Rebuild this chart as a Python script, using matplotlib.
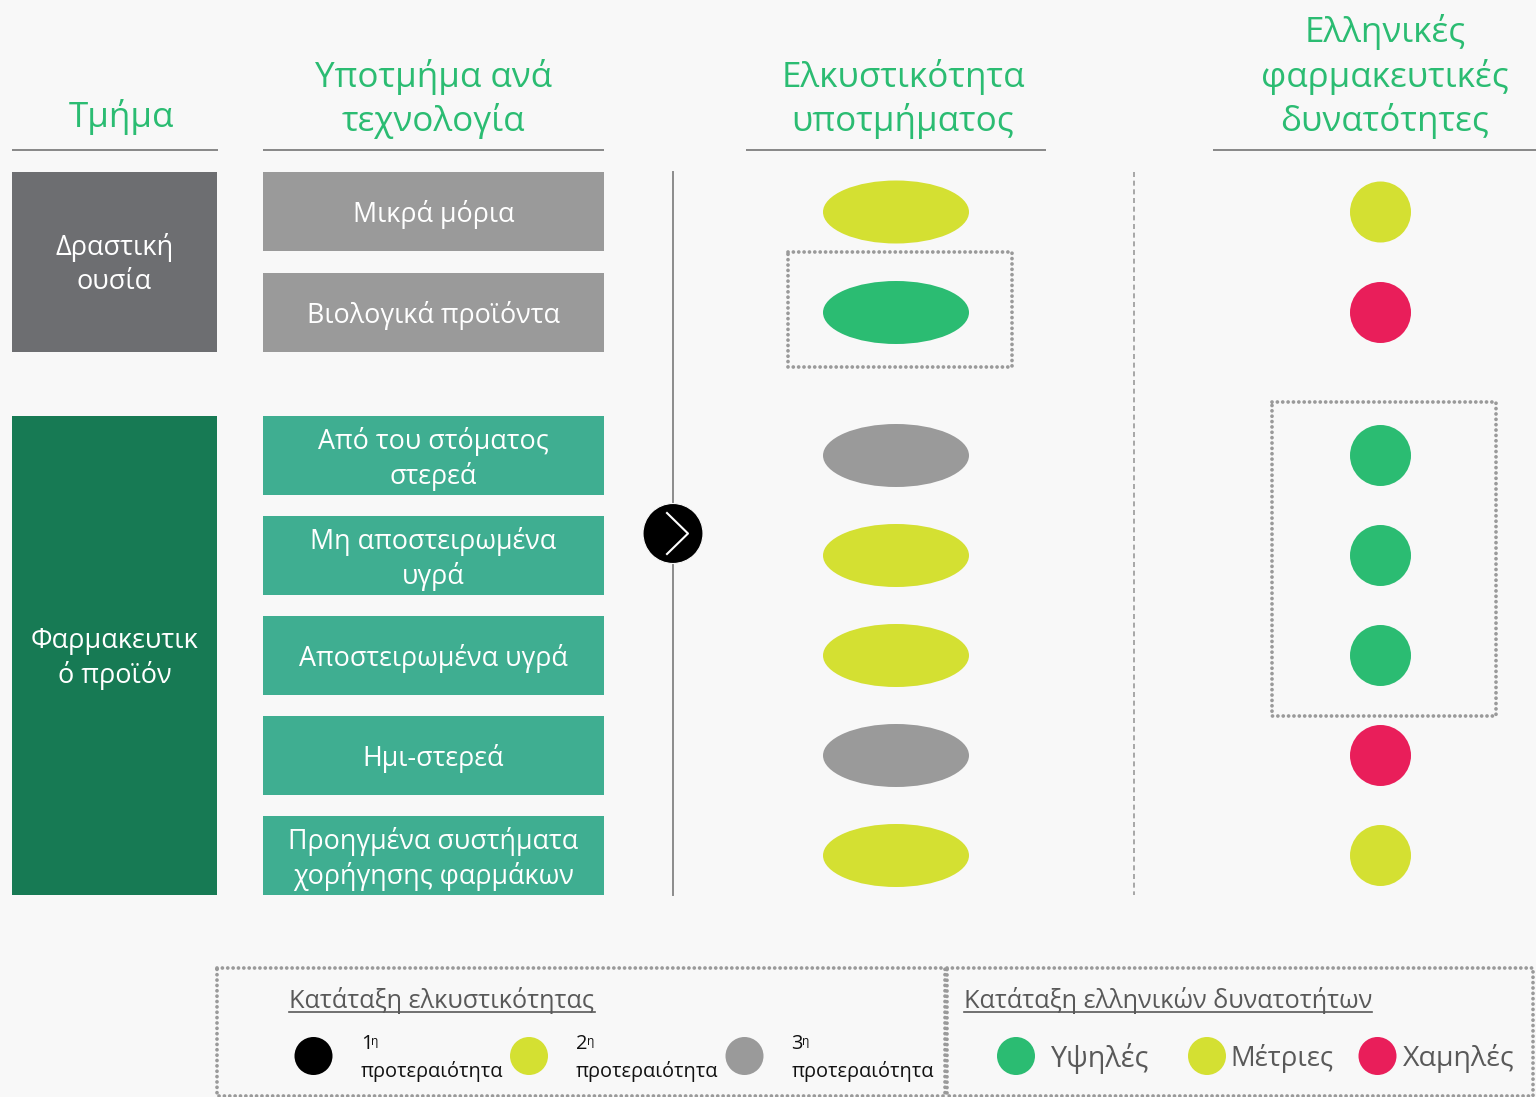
import matplotlib
matplotlib.use("Agg")
import matplotlib.pyplot as plt
from matplotlib.patches import Rectangle, Ellipse, Circle

plt.rcParams['font.family'] = ['Open Sans', 'DejaVu Sans']

headers = ["Τμήμα", "Υποτμήμα ανά\nτεχνολογία", "Ελκυστικότητα\nυποτμήματος", "Ελληνικές\nφαρμακευτικές\nδυνατότητες"]
segments = ["Δραστική\nουσία", "Φαρμακευτικ\nό προϊόν"]
subsegments = ["Μικρά μόρια", "Βιολογικά προϊόντα", "Από του στόματος\nστερεά", "Μη αποστειρωμένα\nυγρά",
               "Αποστειρωμένα υγρά", "Ημι-στερεά", "Προηγμένα συστήματα\nχορήγησης φαρμάκων"]
attractiveness = [2, 1, 3, 2, 2, 3, 2]      # priority rank
capabilities = ["Μέτριες", "Χαμηλές", "Υψηλές", "Υψηλές", "Υψηλές", "Χαμηλές", "Μέτριες"]
rank_title = "Κατάταξη ελκυστικότητας"
cap_title = "Κατάταξη ελληνικών δυνατοτήτων"
rank_labels = ["1η", "2η", "3η"]
rank_word = "προτεραιότητα"
cap_labels = ["Υψηλές", "Μέτριες", "Χαμηλές"]

GREEN, LIME, RED, GREY = "#2BBC72", "#D4E032", "#E91E5A", "#9A9A9A"
BG = "#F8F8F8"
rank_col = {1: GREEN, 2: LIME, 3: GREY}
cap_col = {"Υψηλές": GREEN, "Μέτριες": LIME, "Χαμηλές": RED}

row_top = [172, 273, 416, 516, 616, 716, 816]
row_h = 79
row_cy = [212, 312.5, 455.5, 555.5, 655.5, 755.5, 855.5]

fig = plt.figure(figsize=(15.36, 10.97), dpi=100, facecolor=BG)
ax = fig.add_axes([0, 0, 1, 1])
ax.set_xlim(0, 1536); ax.set_ylim(1097, 0); ax.axis("off")

# headers
hx = [121, 433.5, 903, 1385]
hy = [135, 139, 139, 139]
rule = [(12, 218), (263, 604), (746, 1046), (1213, 1536)]
for h, x, y, (a, b) in zip(headers, hx, hy, rule):
    ax.text(x, y, h, ha="center", va="bottom", color=GREEN, fontsize=25.2, linespacing=1.3)
    ax.plot([a, b], [150, 150], color="#7F7F7F", lw=1.3, solid_capstyle="butt")

# segments
ax.add_patch(Rectangle((12, 172), 205, 180, fc="#6D6E71", ec="none"))
ax.add_patch(Rectangle((12, 416), 205, 479, fc="#177A54", ec="none"))
ax.text(114.5, 264.5, segments[0], color="white", ha="center", va="center", fontsize=19.5, linespacing=1.3)
ax.text(114.5, 658.5, segments[1], color="white", ha="center", va="center", fontsize=19.5, linespacing=1.3)

# sub-segments and marks
for i, (s, t, cy) in enumerate(zip(subsegments, row_top, row_cy)):
    ax.add_patch(Rectangle((263, t), 341, row_h, fc="#9A9A9A" if i < 2 else "#3FAE91", ec="none"))
    ax.text(433.5, t + row_h / 2 + 3.2, s, color="white", ha="center", va="center", fontsize=19.4, linespacing=1.27)
    ax.add_patch(Ellipse((896, cy), 146, 63, fc=rank_col[attractiveness[i]], ec="none"))
    ax.add_patch(Circle((1380.5, cy), 30.5, fc=cap_col[capabilities[i]], ec="none"))

# dividers
ax.plot([673, 673], [172, 895], color="#8C8C8C", lw=1.4)
ax.plot([1134, 1134], [172, 895], color="#9A9A9A", lw=1.2, ls=(0, (3, 2.2)))
ax.add_patch(Circle((673, 533.5), 30, fc="black", ec="#F8F8F8", lw=0.8, zorder=3))
ax.plot([667, 688, 667], [513, 533.5, 554], color="white", lw=1.5, zorder=4)

# dotted boxes
dot = dict(fc="none", ec="#9A9A9A", lw=2.7, ls=(0, (0.01, 1.42)), capstyle="round")
ax.add_patch(Rectangle((787.5, 252), 224.5, 115, **dot))
ax.add_patch(Rectangle((1271.5, 401.5), 224.5, 314, **dot))
ax.add_patch(Rectangle((217, 968), 728, 128, **dot))
ax.add_patch(Rectangle((947, 968), 586, 128, **dot))

# legend: rank
ax.text(289, 1000.5, rank_title, color="#595959", fontsize=18.2, ha="left", va="center")
ax.plot([289, 595], [1012, 1012], color="#595959", lw=1.2)
for lab, cx, tx, col in zip(rank_labels, [313.5, 529, 744.5], [361, 576, 791.5], ["black", LIME, GREY]):
    ax.add_patch(Ellipse((cx, 1056), 38, 38, fc=col, ec="none"))
    ax.text(tx, 1044, lab[0], color="#111111", fontsize=14.4, ha="left", va="center")
    ax.text(tx + 10.5, 1041.5, lab[1], color="#111111", fontsize=8.6, ha="left", va="center")
    ax.text(tx, 1071.5, rank_word, color="#111111", fontsize=14.4, ha="left", va="center")

# legend: capabilities
ax.text(964, 1000.5, cap_title, color="#595959", fontsize=18.2, ha="left", va="center")
ax.plot([964, 1372], [1012, 1012], color="#595959", lw=1.2)
for lab, cx, tx, fs in zip(cap_labels, [1016, 1207, 1377.5], [1051, 1230, 1403], [20.7, 19.8, 20.5]):
    ax.add_patch(Circle((cx, 1056), 19, fc=cap_col[lab], ec="none"))
    ax.text(tx, 1058.5, lab, color="#595959", fontsize=fs, ha="left", va="center")

fig.savefig("out.png", dpi=100, facecolor=BG)
